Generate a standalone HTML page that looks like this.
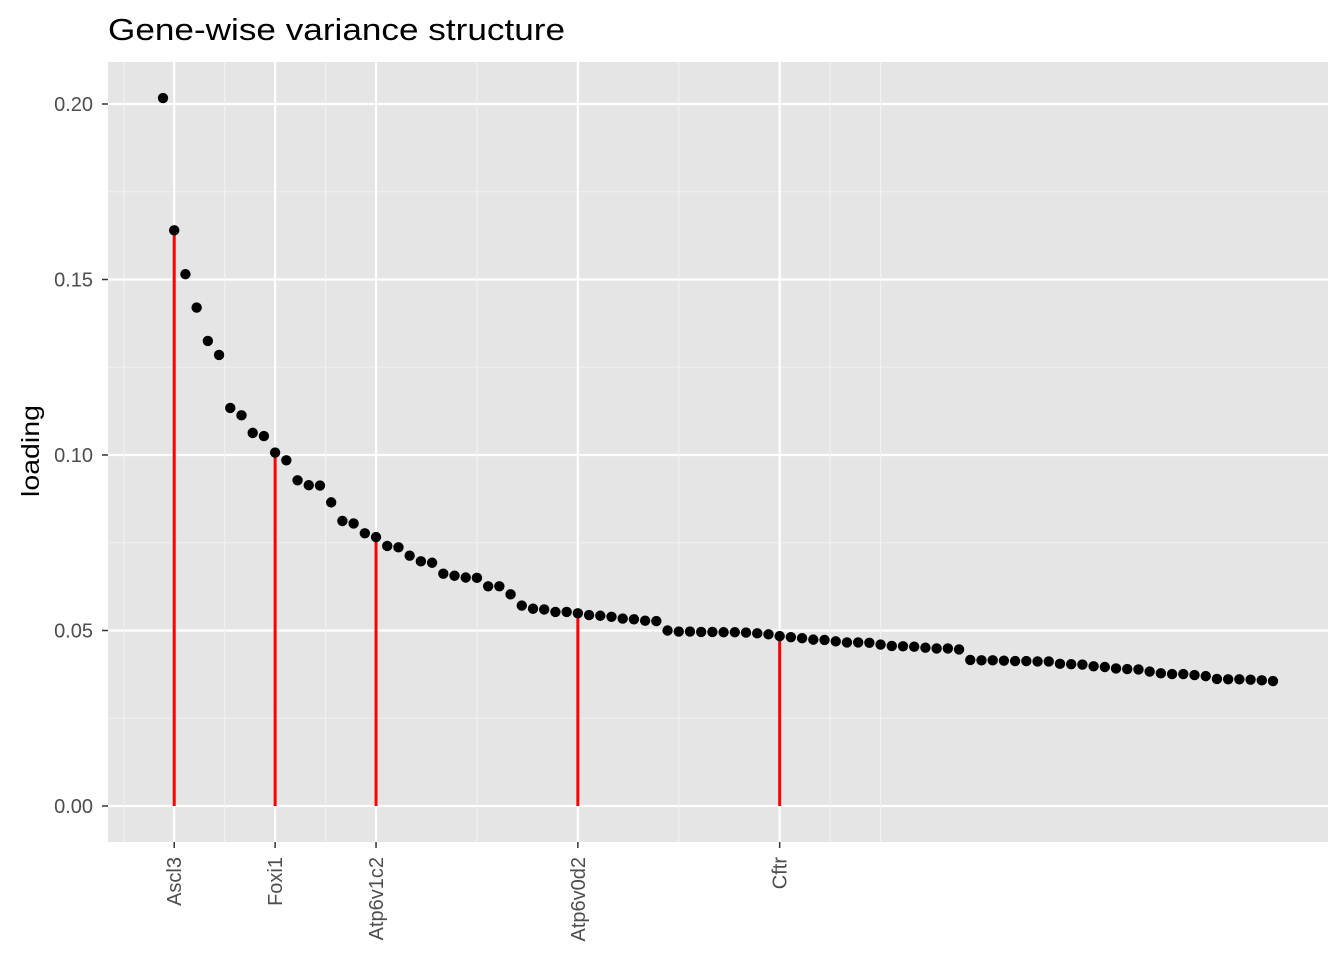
<!DOCTYPE html>
<html><head><meta charset="utf-8"><style>
body{margin:0;background:#fff;}
svg text{font-family:"Liberation Sans",Arial,sans-serif;}
</style></head><body>
<svg id="chart" width="1344" height="960" xmlns="http://www.w3.org/2000/svg">
<text x="108" y="40" font-size="31" textLength="457" lengthAdjust="spacingAndGlyphs" fill="#000">Gene-wise variance structure</text>
<rect x="108" y="62" width="1220" height="780" fill="#e5e5e5"/>
<g id="grid"></g>
<g id="stems"></g>
<g id="points"></g>
<g id="axes"></g>
<text transform="translate(39,451) rotate(-90)" text-anchor="middle" font-size="25" textLength="92" lengthAdjust="spacingAndGlyphs" fill="#000">loading</text>
</svg>
<script>
const loadings=[0.2017,0.164,0.1515,0.142,0.1325,0.1285,0.1134,0.1113,0.1063,0.1054,0.1007,0.0985,0.0928,0.0914,0.0913,0.0865,0.0812,0.0805,0.0777,0.0766,0.0741,0.0737,0.0713,0.0697,0.0693,0.0662,0.0656,0.0651,0.0650,0.0626,0.0626,0.0603,0.0571,0.0562,0.0560,0.0553,0.0553,0.0549,0.0544,0.0542,0.0539,0.0534,0.0532,0.0528,0.0527,0.0500,0.0497,0.0497,0.0496,0.0496,0.0495,0.0495,0.0494,0.0492,0.0489,0.0484,0.0481,0.0478,0.0474,0.0473,0.0469,0.0466,0.0466,0.0465,0.0460,0.0456,0.0455,0.0454,0.0451,0.0449,0.0449,0.0446,0.0416,0.0415,0.0415,0.0414,0.0413,0.0413,0.0412,0.0412,0.0405,0.0404,0.0403,0.0398,0.0396,0.0392,0.0390,0.0389,0.0383,0.0378,0.0376,0.0376,0.0373,0.0370,0.0362,0.0361,0.0361,0.0360,0.0358,0.0356];
const highlightIdx=[2,11,20,38,56];
const highlightLabels=["Ascl3","Foxi1","Atp6v1c2","Atp6v0d2","Cftr"];
const yTicks=[0,0.05,0.10,0.15,0.20];
const yTickLabels=["0.00","0.05","0.10","0.15","0.20"];
const xMinor=[-2.5,6.5,15.5,29,47,60.5,65];

const NS="http://www.w3.org/2000/svg";
const n=loadings.length;
const x=i=>163+(i-1)*(1273-163)/(n-1);
const y=v=>806-v*(806-104)/0.2;
function mk(tag,attrs,parent){const e=document.createElementNS(NS,tag);for(const k in attrs)e.setAttribute(k,attrs[k]);parent.appendChild(e);return e;}
const grid=document.getElementById('grid'),stems=document.getElementById('stems'),pts=document.getElementById('points'),axes=document.getElementById('axes');
for(let i=0;i<yTicks.length;i++){
  if(i<yTicks.length-1){const m=(yTicks[i]+yTicks[i+1])/2;
    const g=mk('line',{x1:108,x2:1328,y1:y(m),y2:y(m),stroke:'#f2f2f2','stroke-width':1.1},grid);
    
    }
  const g=mk('line',{x1:108,x2:1328,y1:y(yTicks[i]),y2:y(yTicks[i]),stroke:'#fff','stroke-width':2.2},grid);
  
  
  const t=mk('line',{x1:102,x2:108,y1:y(yTicks[i]),y2:y(yTicks[i]),stroke:'#333','stroke-width':1.5},axes);
  
  
  const l=mk('text',{x:93,y:y(yTicks[i])+7,'text-anchor':'end','font-size':20,fill:'#4d4d4d'},axes);
  l.textContent=yTickLabels[i];
  
  
}
xMinor.forEach(m=>{const g=mk('line',{x1:x(m),x2:x(m),y1:62,y2:842,stroke:'#f2f2f2','stroke-width':1.1},grid);
  
  });
highlightIdx.forEach((idx,k)=>{
  const g=mk('line',{x1:x(idx),x2:x(idx),y1:62,y2:842,stroke:'#fff','stroke-width':2.2},grid);
  
  
  const s=mk('line',{x1:x(idx),x2:x(idx),y1:y(0),y2:y(loadings[idx-1]),stroke:'#ff0000','stroke-width':3},stems);
  
  
  const t=mk('line',{x1:x(idx),x2:x(idx),y1:842,y2:848,stroke:'#333','stroke-width':1.5},axes);
  
  
  const l=mk('text',{transform:`translate(${x(idx)+7},857) rotate(-90)`,'text-anchor':'end','font-size':20,fill:'#4d4d4d'},axes);
  l.textContent=highlightLabels[k];
  
  
});
loadings.forEach((v,i)=>{
  const c=mk('circle',{cx:x(i+1),cy:y(v),r:5.2,fill:'#000'},pts);
  
  
});
</script>
</body></html>
